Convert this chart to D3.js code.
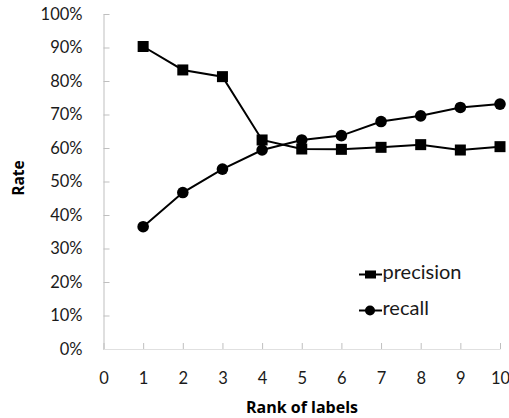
<!DOCTYPE html>
<html><head><meta charset="utf-8">
<script src="https://cdn.jsdelivr.net/npm/d3@7"></script>
<style>body{margin:0;background:#fff}svg{display:block}</style>
</head><body>
<script>
const ranks = [1,2,3,4,5,6,7,8,9,10];
const precision = [0.903,0.833,0.813,0.624,0.597,0.596,0.602,0.610,0.594,0.604];
const recall = [0.365,0.467,0.537,0.594,0.624,0.637,0.679,0.696,0.721,0.731];
const seriesNames = ["precision","recall"];
const xTicks = [0,1,2,3,4,5,6,7,8,9,10];
const yTicks = [0,0.1,0.2,0.3,0.4,0.5,0.6,0.7,0.8,0.9,1.0];

const W=509,H=418;
const svg=d3.select("body").append("svg").attr("width",W).attr("height",H);
const font="Lato, 'Open Sans', sans-serif";
const x=d3.scaleLinear().domain([0,10]).range([103.5,500]);
const y=d3.scaleLinear().domain([0,1]).range([349,14]);
const grey="#bfbfbf";

// y axis
const ya=svg.append("g").attr("transform",`translate(${x(0)},0)`)
  .call(d3.axisLeft(y).tickValues(yTicks).tickFormat(d3.format(".0%")).tickSizeInner(-6).tickSizeOuter(0).tickPadding(21));
ya.select(".domain").attr("stroke",grey);
ya.selectAll(".tick line").attr("stroke",grey);
ya.selectAll("text").attr("font-family",font).attr("font-size",16.5).attr("fill","#1a1a1a");

// x axis
const xa=svg.append("g").attr("transform",`translate(0,${y(0)})`)
  .call(d3.axisBottom(x).tickValues(xTicks).tickFormat(d3.format("d")).tickSizeInner(-6).tickSizeOuter(0).tickPadding(23));
xa.select(".domain").attr("stroke","#e0e0e0");
xa.selectAll(".tick line").attr("stroke",grey);
xa.selectAll("text").attr("font-family",font).attr("font-size",16.5).attr("fill","#1a1a1a");

// titles
svg.append("text").attr("x",302).attr("y",413).attr("text-anchor","middle")
  .attr("font-family","'Open Sans', sans-serif").attr("font-weight","bold").attr("font-size",16).text("Rank of labels");
svg.append("text").attr("transform","translate(24,178) rotate(-90)").attr("text-anchor","middle")
  .attr("font-family","'Open Sans', sans-serif").attr("font-weight","bold").attr("font-size",15.5).text("Rate");

const line=d3.line().x((d,i)=>x(ranks[i])).y(d=>y(d));
const data=[precision,recall];
data.forEach((s,k)=>{
  svg.append("path").attr("d",line(s)).attr("fill","none").attr("stroke","#000").attr("stroke-width",2);
});
// markers
svg.selectAll("rect.p").data(precision).enter().append("rect")
  .attr("x",(d,i)=>x(ranks[i])-5.5).attr("y",d=>y(d)-5.5).attr("width",11).attr("height",11).attr("fill","#000");
svg.selectAll("circle.r").data(recall).enter().append("circle")
  .attr("cx",(d,i)=>x(ranks[i])).attr("cy",d=>y(d)).attr("r",5.8).attr("fill","#000");

// legend
const lg=[{name:seriesNames[0],y:274.5,shape:"sq"},{name:seriesNames[1],y:310.5,shape:"c"}];
lg.forEach(l=>{
  svg.append("line").attr("x1",359).attr("x2",382).attr("y1",l.y).attr("y2",l.y).attr("stroke","#000").attr("stroke-width",2);
  if(l.shape==="sq") svg.append("rect").attr("x",365).attr("y",l.y-4).attr("width",11).attr("height",8).attr("fill","#000");
  else svg.append("circle").attr("cx",370).attr("cy",l.y).attr("r",5).attr("fill","#000");
  svg.append("text").attr("x",382.5).attr("y",l.y+4.5).attr("font-family",font).attr("font-size",20).attr("fill","#1a1a1a").text(l.name);
});
</script>
</body></html>
